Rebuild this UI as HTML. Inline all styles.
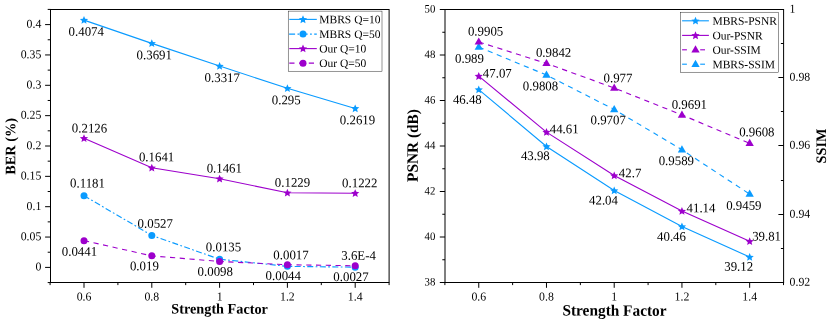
<!DOCTYPE html>
<html><head><meta charset="utf-8"><title>chart</title>
<style>
html,body{margin:0;padding:0;background:#fff;}
svg{display:block;will-change:transform;font-family:"Liberation Serif",serif;fill:#000;}
</style></head><body>
<svg width="830" height="320" viewBox="0 0 830 320">
<rect width="830" height="320" fill="#fff"/>
<rect x="50.5" y="9.5" width="338.60" height="273.0" fill="none" stroke="#000" stroke-width="1"/>
<line x1="45.10" y1="267.40" x2="50.50" y2="267.40" stroke="#000" stroke-width="1"/>
<text transform="translate(41.30,270.63) rotate(0.05) scale(1,1.03)" font-size="11.8" text-anchor="end">0</text>
<line x1="45.10" y1="237.05" x2="50.50" y2="237.05" stroke="#000" stroke-width="1"/>
<text transform="translate(41.30,240.28) rotate(0.05) scale(1,1.03)" font-size="11.8" text-anchor="end">0.05</text>
<line x1="45.10" y1="206.70" x2="50.50" y2="206.70" stroke="#000" stroke-width="1"/>
<text transform="translate(41.30,209.93) rotate(0.05) scale(1,1.03)" font-size="11.8" text-anchor="end">0.1</text>
<line x1="45.10" y1="176.35" x2="50.50" y2="176.35" stroke="#000" stroke-width="1"/>
<text transform="translate(41.30,179.58) rotate(0.05) scale(1,1.03)" font-size="11.8" text-anchor="end">0.15</text>
<line x1="45.10" y1="146.00" x2="50.50" y2="146.00" stroke="#000" stroke-width="1"/>
<text transform="translate(41.30,149.23) rotate(0.05) scale(1,1.03)" font-size="11.8" text-anchor="end">0.2</text>
<line x1="45.10" y1="115.65" x2="50.50" y2="115.65" stroke="#000" stroke-width="1"/>
<text transform="translate(41.30,118.88) rotate(0.05) scale(1,1.03)" font-size="11.8" text-anchor="end">0.25</text>
<line x1="45.10" y1="85.30" x2="50.50" y2="85.30" stroke="#000" stroke-width="1"/>
<text transform="translate(41.30,88.53) rotate(0.05) scale(1,1.03)" font-size="11.8" text-anchor="end">0.3</text>
<line x1="45.10" y1="54.95" x2="50.50" y2="54.95" stroke="#000" stroke-width="1"/>
<text transform="translate(41.30,58.18) rotate(0.05) scale(1,1.03)" font-size="11.8" text-anchor="end">0.35</text>
<line x1="45.10" y1="24.60" x2="50.50" y2="24.60" stroke="#000" stroke-width="1"/>
<text transform="translate(41.30,27.83) rotate(0.05) scale(1,1.03)" font-size="11.8" text-anchor="end">0.4</text>
<line x1="47.70" y1="282.57" x2="50.50" y2="282.57" stroke="#000" stroke-width="1"/>
<line x1="47.70" y1="252.22" x2="50.50" y2="252.22" stroke="#000" stroke-width="1"/>
<line x1="47.70" y1="221.87" x2="50.50" y2="221.87" stroke="#000" stroke-width="1"/>
<line x1="47.70" y1="191.52" x2="50.50" y2="191.52" stroke="#000" stroke-width="1"/>
<line x1="47.70" y1="161.17" x2="50.50" y2="161.17" stroke="#000" stroke-width="1"/>
<line x1="47.70" y1="130.82" x2="50.50" y2="130.82" stroke="#000" stroke-width="1"/>
<line x1="47.70" y1="100.47" x2="50.50" y2="100.47" stroke="#000" stroke-width="1"/>
<line x1="47.70" y1="70.12" x2="50.50" y2="70.12" stroke="#000" stroke-width="1"/>
<line x1="47.70" y1="39.77" x2="50.50" y2="39.77" stroke="#000" stroke-width="1"/>
<line x1="47.70" y1="9.42" x2="50.50" y2="9.42" stroke="#000" stroke-width="1"/>
<line x1="84.00" y1="282.50" x2="84.00" y2="287.80" stroke="#000" stroke-width="1"/>
<text transform="translate(84.00,300.58) rotate(0.05) scale(1,1.03)" font-size="11.8" text-anchor="middle">0.6</text>
<line x1="151.80" y1="282.50" x2="151.80" y2="287.80" stroke="#000" stroke-width="1"/>
<text transform="translate(151.80,300.58) rotate(0.05) scale(1,1.03)" font-size="11.8" text-anchor="middle">0.8</text>
<line x1="219.60" y1="282.50" x2="219.60" y2="287.80" stroke="#000" stroke-width="1"/>
<text transform="translate(219.60,300.58) rotate(0.05) scale(1,1.03)" font-size="11.8" text-anchor="middle">1</text>
<line x1="287.40" y1="282.50" x2="287.40" y2="287.80" stroke="#000" stroke-width="1"/>
<text transform="translate(287.40,300.58) rotate(0.05) scale(1,1.03)" font-size="11.8" text-anchor="middle">1.2</text>
<line x1="355.20" y1="282.50" x2="355.20" y2="287.80" stroke="#000" stroke-width="1"/>
<text transform="translate(355.20,300.58) rotate(0.05) scale(1,1.03)" font-size="11.8" text-anchor="middle">1.4</text>
<line x1="50.10" y1="282.50" x2="50.10" y2="285.10" stroke="#000" stroke-width="1"/>
<line x1="117.90" y1="282.50" x2="117.90" y2="285.10" stroke="#000" stroke-width="1"/>
<line x1="185.70" y1="282.50" x2="185.70" y2="285.10" stroke="#000" stroke-width="1"/>
<line x1="253.50" y1="282.50" x2="253.50" y2="285.10" stroke="#000" stroke-width="1"/>
<line x1="321.30" y1="282.50" x2="321.30" y2="285.10" stroke="#000" stroke-width="1"/>
<line x1="389.10" y1="282.50" x2="389.10" y2="285.10" stroke="#000" stroke-width="1"/>
<text transform="translate(219.60,313.61) rotate(0.05) scale(1,1.02)" font-size="14.25" text-anchor="middle" font-weight="bold">Strength Factor</text>
<text transform="translate(15.31,146.40) rotate(-89.95) scale(1,1.02)" font-size="14.25" text-anchor="middle" font-weight="bold">BER (%)</text>
<polyline points="84.00,20.11 151.80,43.36 219.60,66.06 287.40,88.33 355.20,108.43" fill="none" stroke="#0a9bff" stroke-width="1.12"/>
<polyline points="84.00,195.71 151.80,235.41 219.60,259.21 287.40,266.37 355.20,267.18" fill="none" stroke="#0a9bff" stroke-width="1.12" stroke-dasharray="6 2.4 1.75 2.4"/>
<polyline points="84.00,138.35 151.80,167.79 219.60,178.72 287.40,192.80 355.20,193.22" fill="none" stroke="#9d00cc" stroke-width="1.12"/>
<polyline points="84.00,240.63 151.80,255.87 219.60,261.45 287.40,264.73 355.20,265.76" fill="none" stroke="#9d00cc" stroke-width="1.12" stroke-dasharray="5.2 4.55"/>
<polygon points="84.00,16.07 85.18,18.75 88.09,19.04 85.90,20.98 86.53,23.84 84.00,22.37 81.47,23.84 82.10,20.98 79.91,19.04 82.82,18.75" fill="#0a9bff"/>
<polygon points="151.80,39.31 152.98,42.00 155.89,42.29 153.70,44.23 154.33,47.09 151.80,45.61 149.27,47.09 149.90,44.23 147.71,42.29 150.62,42.00" fill="#0a9bff"/>
<polygon points="219.60,62.02 220.78,64.70 223.69,64.99 221.50,66.93 222.13,69.79 219.60,68.32 217.07,69.79 217.70,66.93 215.51,64.99 218.42,64.70" fill="#0a9bff"/>
<polygon points="287.40,84.29 288.58,86.97 291.49,87.26 289.30,89.21 289.93,92.07 287.40,90.59 284.87,92.07 285.50,89.21 283.31,87.26 286.22,86.97" fill="#0a9bff"/>
<polygon points="355.20,104.38 356.38,107.07 359.29,107.36 357.10,109.30 357.73,112.16 355.20,110.68 352.67,112.16 353.30,109.30 351.11,107.36 354.02,107.07" fill="#0a9bff"/>
<circle cx="84.00" cy="195.71" r="3.5" fill="#0a9bff"/>
<circle cx="151.80" cy="235.41" r="3.5" fill="#0a9bff"/>
<circle cx="219.60" cy="259.21" r="3.5" fill="#0a9bff"/>
<circle cx="287.40" cy="266.37" r="3.5" fill="#0a9bff"/>
<circle cx="355.20" cy="267.18" r="3.5" fill="#0a9bff"/>
<polygon points="84.00,134.31 85.18,136.99 88.09,137.28 85.90,139.23 86.53,142.09 84.00,140.61 81.47,142.09 82.10,139.23 79.91,137.28 82.82,136.99" fill="#9d00cc"/>
<polygon points="151.80,163.75 152.98,166.43 155.89,166.72 153.70,168.67 154.33,171.53 151.80,170.05 149.27,171.53 149.90,168.67 147.71,166.72 150.62,166.43" fill="#9d00cc"/>
<polygon points="219.60,174.68 220.78,177.36 223.69,177.65 221.50,179.59 222.13,182.45 219.60,180.98 217.07,182.45 217.70,179.59 215.51,177.65 218.42,177.36" fill="#9d00cc"/>
<polygon points="287.40,188.76 288.58,191.44 291.49,191.73 289.30,193.68 289.93,196.54 287.40,195.06 284.87,196.54 285.50,193.68 283.31,191.73 286.22,191.44" fill="#9d00cc"/>
<polygon points="355.20,189.18 356.38,191.86 359.29,192.15 357.10,194.10 357.73,196.96 355.20,195.48 352.67,196.96 353.30,194.10 351.11,192.15 354.02,191.86" fill="#9d00cc"/>
<circle cx="84.00" cy="240.63" r="3.5" fill="#9d00cc"/>
<circle cx="151.80" cy="255.87" r="3.5" fill="#9d00cc"/>
<circle cx="219.60" cy="261.45" r="3.5" fill="#9d00cc"/>
<circle cx="287.40" cy="264.73" r="3.5" fill="#9d00cc"/>
<circle cx="355.20" cy="265.76" r="3.5" fill="#9d00cc"/>
<text transform="translate(86.25,35.69) rotate(0.05) scale(1,1.02)" font-size="12.85" text-anchor="middle">0.4074</text>
<text transform="translate(154.25,59.19) rotate(0.05) scale(1,1.02)" font-size="12.85" text-anchor="middle">0.3691</text>
<text transform="translate(222.25,81.89) rotate(0.05) scale(1,1.02)" font-size="12.85" text-anchor="middle">0.3317</text>
<text transform="translate(286.25,104.19) rotate(0.05) scale(1,1.02)" font-size="12.85" text-anchor="middle">0.295</text>
<text transform="translate(357.50,124.19) rotate(0.05) scale(1,1.02)" font-size="12.85" text-anchor="middle">0.2619</text>
<text transform="translate(89.50,132.39) rotate(0.05) scale(1,1.02)" font-size="12.85" text-anchor="middle">0.2126</text>
<text transform="translate(156.60,161.29) rotate(0.05) scale(1,1.02)" font-size="12.85" text-anchor="middle">0.1641</text>
<text transform="translate(224.30,172.59) rotate(0.05) scale(1,1.02)" font-size="12.85" text-anchor="middle">0.1461</text>
<text transform="translate(292.50,186.69) rotate(0.05) scale(1,1.02)" font-size="12.85" text-anchor="middle">0.1229</text>
<text transform="translate(359.75,187.19) rotate(0.05) scale(1,1.02)" font-size="12.85" text-anchor="middle">0.1222</text>
<text transform="translate(87.50,187.39) rotate(0.05) scale(1,1.02)" font-size="12.85" text-anchor="middle">0.1181</text>
<text transform="translate(155.25,227.69) rotate(0.05) scale(1,1.02)" font-size="12.85" text-anchor="middle">0.0527</text>
<text transform="translate(223.50,251.29) rotate(0.05) scale(1,1.02)" font-size="12.85" text-anchor="middle">0.0135</text>
<text transform="translate(291.00,259.19) rotate(0.05) scale(1,1.02)" font-size="12.85" text-anchor="middle">0.0017</text>
<text transform="translate(358.60,259.79) rotate(0.05) scale(1,1.02)" font-size="12.85" text-anchor="middle">3.6E-4</text>
<text transform="translate(79.40,255.69) rotate(0.05) scale(1,1.02)" font-size="12.85" text-anchor="middle">0.0441</text>
<text transform="translate(144.40,270.19) rotate(0.05) scale(1,1.02)" font-size="12.85" text-anchor="middle">0.019</text>
<text transform="translate(215.25,275.69) rotate(0.05) scale(1,1.02)" font-size="12.85" text-anchor="middle">0.0098</text>
<text transform="translate(283.25,279.89) rotate(0.05) scale(1,1.02)" font-size="12.85" text-anchor="middle">0.0044</text>
<text transform="translate(351.00,280.99) rotate(0.05) scale(1,1.02)" font-size="12.85" text-anchor="middle">0.0027</text>
<rect x="288.2" y="11.1" width="93.8" height="60.1" fill="#fff" stroke="#000" stroke-width="0.42"/>
<polyline points="289.30,19.40 316.80,19.40" fill="none" stroke="#0a9bff" stroke-width="1.12"/>
<polygon points="303.00,15.36 304.18,18.04 307.09,18.33 304.90,20.28 305.53,23.14 303.00,21.66 300.47,23.14 301.10,20.28 298.91,18.33 301.82,18.04" fill="#0a9bff"/>
<polyline points="289.10,34.10 316.80,34.10" fill="none" stroke="#0a9bff" stroke-width="1.12" stroke-dasharray="6 2.4 1.75 2.4"/>
<circle cx="303.00" cy="34.10" r="3.5" fill="#0a9bff"/>
<polyline points="289.30,48.60 316.80,48.60" fill="none" stroke="#9d00cc" stroke-width="1.12"/>
<polygon points="303.00,44.56 304.18,47.24 307.09,47.53 304.90,49.48 305.53,52.34 303.00,50.86 300.47,52.34 301.10,49.48 298.91,47.53 301.82,47.24" fill="#9d00cc"/>
<polyline points="289.30,63.15 316.80,63.15" fill="none" stroke="#9d00cc" stroke-width="1.12" stroke-dasharray="5.2 4.55"/>
<circle cx="303.00" cy="63.15" r="3.5" fill="#9d00cc"/>
<text transform="translate(319.30,23.27) rotate(0.05) scale(1,1.0)" font-size="11.5" text-anchor="start">MBRS Q=10</text>
<text transform="translate(319.30,37.97) rotate(0.05) scale(1,1.0)" font-size="11.5" text-anchor="start">MBRS Q=50</text>
<text transform="translate(319.30,52.47) rotate(0.05) scale(1,1.0)" font-size="11.5" text-anchor="start">Our Q=10</text>
<text transform="translate(319.30,67.02) rotate(0.05) scale(1,1.0)" font-size="11.5" text-anchor="start">Our Q=50</text>
<rect x="445.0" y="9.5" width="338.60" height="273.0" fill="none" stroke="#000" stroke-width="1"/>
<line x1="439.80" y1="282.50" x2="445.00" y2="282.50" stroke="#000" stroke-width="1"/>
<text transform="translate(435.30,285.50) rotate(0.05) scale(1,1.06)" font-size="10.8" text-anchor="end">38</text>
<line x1="439.80" y1="237.00" x2="445.00" y2="237.00" stroke="#000" stroke-width="1"/>
<text transform="translate(435.30,240.00) rotate(0.05) scale(1,1.06)" font-size="10.8" text-anchor="end">40</text>
<line x1="439.80" y1="191.50" x2="445.00" y2="191.50" stroke="#000" stroke-width="1"/>
<text transform="translate(435.30,194.50) rotate(0.05) scale(1,1.06)" font-size="10.8" text-anchor="end">42</text>
<line x1="439.80" y1="146.00" x2="445.00" y2="146.00" stroke="#000" stroke-width="1"/>
<text transform="translate(435.30,149.00) rotate(0.05) scale(1,1.06)" font-size="10.8" text-anchor="end">44</text>
<line x1="439.80" y1="100.50" x2="445.00" y2="100.50" stroke="#000" stroke-width="1"/>
<text transform="translate(435.30,103.50) rotate(0.05) scale(1,1.06)" font-size="10.8" text-anchor="end">46</text>
<line x1="439.80" y1="55.00" x2="445.00" y2="55.00" stroke="#000" stroke-width="1"/>
<text transform="translate(435.30,58.00) rotate(0.05) scale(1,1.06)" font-size="10.8" text-anchor="end">48</text>
<line x1="439.80" y1="9.50" x2="445.00" y2="9.50" stroke="#000" stroke-width="1"/>
<text transform="translate(435.30,12.50) rotate(0.05) scale(1,1.06)" font-size="10.8" text-anchor="end">50</text>
<line x1="442.30" y1="259.75" x2="445.00" y2="259.75" stroke="#000" stroke-width="1"/>
<line x1="442.30" y1="214.25" x2="445.00" y2="214.25" stroke="#000" stroke-width="1"/>
<line x1="442.30" y1="168.75" x2="445.00" y2="168.75" stroke="#000" stroke-width="1"/>
<line x1="442.30" y1="123.25" x2="445.00" y2="123.25" stroke="#000" stroke-width="1"/>
<line x1="442.30" y1="77.75" x2="445.00" y2="77.75" stroke="#000" stroke-width="1"/>
<line x1="442.30" y1="32.25" x2="445.00" y2="32.25" stroke="#000" stroke-width="1"/>
<line x1="778.40" y1="282.50" x2="783.60" y2="282.50" stroke="#000" stroke-width="1"/>
<text transform="translate(789.60,285.68) rotate(0.05) scale(1,1.03)" font-size="11.8" text-anchor="start">0.92</text>
<line x1="778.40" y1="214.50" x2="783.60" y2="214.50" stroke="#000" stroke-width="1"/>
<text transform="translate(789.60,217.68) rotate(0.05) scale(1,1.03)" font-size="11.8" text-anchor="start">0.94</text>
<line x1="778.40" y1="145.50" x2="783.60" y2="145.50" stroke="#000" stroke-width="1"/>
<text transform="translate(789.60,148.68) rotate(0.05) scale(1,1.03)" font-size="11.8" text-anchor="start">0.96</text>
<line x1="778.40" y1="77.50" x2="783.60" y2="77.50" stroke="#000" stroke-width="1"/>
<text transform="translate(789.60,80.68) rotate(0.05) scale(1,1.03)" font-size="11.8" text-anchor="start">0.98</text>
<line x1="778.40" y1="9.50" x2="783.60" y2="9.50" stroke="#000" stroke-width="1"/>
<text transform="translate(789.60,12.68) rotate(0.05) scale(1,1.03)" font-size="11.8" text-anchor="start">1</text>
<line x1="780.90" y1="248.50" x2="783.60" y2="248.50" stroke="#000" stroke-width="1"/>
<line x1="780.90" y1="180.50" x2="783.60" y2="180.50" stroke="#000" stroke-width="1"/>
<line x1="780.90" y1="111.50" x2="783.60" y2="111.50" stroke="#000" stroke-width="1"/>
<line x1="780.90" y1="43.50" x2="783.60" y2="43.50" stroke="#000" stroke-width="1"/>
<line x1="478.75" y1="282.50" x2="478.75" y2="287.80" stroke="#000" stroke-width="1"/>
<text transform="translate(478.75,300.58) rotate(0.05) scale(1,1.03)" font-size="11.8" text-anchor="middle">0.6</text>
<line x1="546.48" y1="282.50" x2="546.48" y2="287.80" stroke="#000" stroke-width="1"/>
<text transform="translate(546.48,300.58) rotate(0.05) scale(1,1.03)" font-size="11.8" text-anchor="middle">0.8</text>
<line x1="614.21" y1="282.50" x2="614.21" y2="287.80" stroke="#000" stroke-width="1"/>
<text transform="translate(614.21,300.58) rotate(0.05) scale(1,1.03)" font-size="11.8" text-anchor="middle">1</text>
<line x1="681.94" y1="282.50" x2="681.94" y2="287.80" stroke="#000" stroke-width="1"/>
<text transform="translate(681.94,300.58) rotate(0.05) scale(1,1.03)" font-size="11.8" text-anchor="middle">1.2</text>
<line x1="749.67" y1="282.50" x2="749.67" y2="287.80" stroke="#000" stroke-width="1"/>
<text transform="translate(749.67,300.58) rotate(0.05) scale(1,1.03)" font-size="11.8" text-anchor="middle">1.4</text>
<line x1="444.88" y1="282.50" x2="444.88" y2="285.10" stroke="#000" stroke-width="1"/>
<line x1="512.62" y1="282.50" x2="512.62" y2="285.10" stroke="#000" stroke-width="1"/>
<line x1="580.35" y1="282.50" x2="580.35" y2="285.10" stroke="#000" stroke-width="1"/>
<line x1="648.08" y1="282.50" x2="648.08" y2="285.10" stroke="#000" stroke-width="1"/>
<line x1="715.81" y1="282.50" x2="715.81" y2="285.10" stroke="#000" stroke-width="1"/>
<line x1="783.53" y1="282.50" x2="783.53" y2="285.10" stroke="#000" stroke-width="1"/>
<text transform="translate(614.50,315.63) rotate(0.05) scale(1,1.03)" font-size="15.35" text-anchor="middle" font-weight="bold">Strength Factor</text>
<text transform="translate(417.88,145.50) rotate(-89.95) scale(1,1.03)" font-size="15.35" text-anchor="middle" font-weight="bold">PSNR (dB)</text>
<text transform="translate(825.96,146.00) rotate(-89.95) scale(1,1.02)" font-size="14.25" text-anchor="middle" font-weight="bold">SSIM</text>
<polyline points="478.75,89.58 546.48,146.46 614.21,190.59 681.94,226.53 749.67,257.02" fill="none" stroke="#0a9bff" stroke-width="1.12"/>
<polyline points="478.75,76.16 546.48,132.12 614.21,175.57 681.94,211.06 749.67,241.32" fill="none" stroke="#9d00cc" stroke-width="1.12"/>
<polyline points="478.75,47.04 546.48,75.02 614.21,109.49 681.94,149.75 749.67,194.12" fill="none" stroke="#0a9bff" stroke-width="1.12" stroke-dasharray="5.2 4.55"/>
<polyline points="478.75,41.92 546.48,63.42 614.21,87.99 681.94,114.95 749.67,143.27" fill="none" stroke="#9d00cc" stroke-width="1.12" stroke-dasharray="5.2 4.55"/>
<polygon points="478.75,85.54 479.93,88.22 482.84,88.51 480.65,90.46 481.28,93.32 478.75,91.84 476.22,93.32 476.85,90.46 474.66,88.51 477.57,88.22" fill="#0a9bff"/>
<polygon points="546.48,142.41 547.66,145.09 550.57,145.38 548.38,147.33 549.01,150.19 546.48,148.71 543.95,150.19 544.58,147.33 542.39,145.38 545.30,145.09" fill="#0a9bff"/>
<polygon points="614.21,186.55 615.39,189.23 618.30,189.52 616.11,191.47 616.74,194.33 614.21,192.85 611.68,194.33 612.31,191.47 610.12,189.52 613.03,189.23" fill="#0a9bff"/>
<polygon points="681.94,222.49 683.12,225.17 686.03,225.46 683.84,227.41 684.47,230.27 681.94,228.79 679.41,230.27 680.04,227.41 677.85,225.46 680.76,225.17" fill="#0a9bff"/>
<polygon points="749.67,252.98 750.85,255.66 753.76,255.95 751.57,257.90 752.20,260.76 749.67,259.28 747.14,260.76 747.77,257.90 745.58,255.95 748.49,255.66" fill="#0a9bff"/>
<polygon points="478.75,72.12 479.93,74.80 482.84,75.09 480.65,77.03 481.28,79.89 478.75,78.42 476.22,79.89 476.85,77.03 474.66,75.09 477.57,74.80" fill="#9d00cc"/>
<polygon points="546.48,128.08 547.66,130.76 550.57,131.05 548.38,133.00 549.01,135.86 546.48,134.38 543.95,135.86 544.58,133.00 542.39,131.05 545.30,130.76" fill="#9d00cc"/>
<polygon points="614.21,171.53 615.39,174.21 618.30,174.50 616.11,176.45 616.74,179.31 614.21,177.83 611.68,179.31 612.31,176.45 610.12,174.50 613.03,174.21" fill="#9d00cc"/>
<polygon points="681.94,207.02 683.12,209.70 686.03,209.99 683.84,211.94 684.47,214.80 681.94,213.32 679.41,214.80 680.04,211.94 677.85,209.99 680.76,209.70" fill="#9d00cc"/>
<polygon points="749.67,237.28 750.85,239.96 753.76,240.25 751.57,242.20 752.20,245.06 749.67,243.58 747.14,245.06 747.77,242.20 745.58,240.25 748.49,239.96" fill="#9d00cc"/>
<polygon points="478.75,42.54 474.60,49.74 482.90,49.74" fill="#0a9bff"/>
<polygon points="546.48,70.52 542.33,77.72 550.63,77.72" fill="#0a9bff"/>
<polygon points="614.21,104.99 610.06,112.19 618.36,112.19" fill="#0a9bff"/>
<polygon points="681.94,145.25 677.79,152.45 686.09,152.45" fill="#0a9bff"/>
<polygon points="749.67,189.62 745.52,196.82 753.82,196.82" fill="#0a9bff"/>
<polygon points="478.75,37.42 474.60,44.62 482.90,44.62" fill="#9d00cc"/>
<polygon points="546.48,58.92 542.33,66.12 550.63,66.12" fill="#9d00cc"/>
<polygon points="614.21,83.49 610.06,90.69 618.36,90.69" fill="#9d00cc"/>
<polygon points="681.94,110.45 677.79,117.65 686.09,117.65" fill="#9d00cc"/>
<polygon points="749.67,138.77 745.52,145.97 753.82,145.97" fill="#9d00cc"/>
<text transform="translate(485.60,35.59) rotate(0.05) scale(1,1.02)" font-size="12.85" text-anchor="middle">0.9905</text>
<text transform="translate(553.60,56.79) rotate(0.05) scale(1,1.02)" font-size="12.85" text-anchor="middle">0.9842</text>
<text transform="translate(618.00,82.29) rotate(0.05) scale(1,1.02)" font-size="12.85" text-anchor="middle">0.977</text>
<text transform="translate(689.35,108.79) rotate(0.05) scale(1,1.02)" font-size="12.85" text-anchor="middle">0.9691</text>
<text transform="translate(756.85,136.29) rotate(0.05) scale(1,1.02)" font-size="12.85" text-anchor="middle">0.9608</text>
<text transform="translate(469.50,62.79) rotate(0.05) scale(1,1.02)" font-size="12.85" text-anchor="middle">0.989</text>
<text transform="translate(540.50,90.29) rotate(0.05) scale(1,1.02)" font-size="12.85" text-anchor="middle">0.9808</text>
<text transform="translate(608.20,124.29) rotate(0.05) scale(1,1.02)" font-size="12.85" text-anchor="middle">0.9707</text>
<text transform="translate(676.35,165.09) rotate(0.05) scale(1,1.02)" font-size="12.85" text-anchor="middle">0.9589</text>
<text transform="translate(743.85,209.69) rotate(0.05) scale(1,1.02)" font-size="12.85" text-anchor="middle">0.9459</text>
<text transform="translate(497.30,77.49) rotate(0.05) scale(1,1.02)" font-size="12.85" text-anchor="middle">47.07</text>
<text transform="translate(564.20,133.29) rotate(0.05) scale(1,1.02)" font-size="12.85" text-anchor="middle">44.61</text>
<text transform="translate(630.10,177.24) rotate(0.05) scale(1,1.02)" font-size="12.85" text-anchor="middle">42.7</text>
<text transform="translate(701.00,212.29) rotate(0.05) scale(1,1.02)" font-size="12.85" text-anchor="middle">41.14</text>
<text transform="translate(766.60,240.44) rotate(0.05) scale(1,1.02)" font-size="12.85" text-anchor="middle">39.81</text>
<text transform="translate(467.35,103.79) rotate(0.05) scale(1,1.02)" font-size="12.85" text-anchor="middle">46.48</text>
<text transform="translate(535.35,160.09) rotate(0.05) scale(1,1.02)" font-size="12.85" text-anchor="middle">43.98</text>
<text transform="translate(603.50,204.59) rotate(0.05) scale(1,1.02)" font-size="12.85" text-anchor="middle">42.04</text>
<text transform="translate(671.50,240.79) rotate(0.05) scale(1,1.02)" font-size="12.85" text-anchor="middle">40.46</text>
<text transform="translate(738.70,270.79) rotate(0.05) scale(1,1.02)" font-size="12.85" text-anchor="middle">39.12</text>
<rect x="680.5" y="12.2" width="98" height="60" fill="#fff" stroke="#000" stroke-width="0.42"/>
<polyline points="682.10,20.80 708.90,20.80" fill="none" stroke="#0a9bff" stroke-width="1.12"/>
<polygon points="695.50,16.76 696.68,19.44 699.59,19.73 697.40,21.68 698.03,24.54 695.50,23.06 692.97,24.54 693.60,21.68 691.41,19.73 694.32,19.44" fill="#0a9bff"/>
<polyline points="682.10,35.40 708.90,35.40" fill="none" stroke="#9d00cc" stroke-width="1.12"/>
<polygon points="695.50,31.36 696.68,34.04 699.59,34.33 697.40,36.28 698.03,39.14 695.50,37.66 692.97,39.14 693.60,36.28 691.41,34.33 694.32,34.04" fill="#9d00cc"/>
<polyline points="682.10,49.80 686.90,49.80" fill="none" stroke="#9d00cc" stroke-width="1.12"/>
<polyline points="700.20,49.80 705.00,49.80" fill="none" stroke="#9d00cc" stroke-width="1.12"/>
<polygon points="695.50,45.30 691.35,52.50 699.65,52.50" fill="#9d00cc"/>
<polyline points="682.10,64.20 686.90,64.20" fill="none" stroke="#0a9bff" stroke-width="1.12"/>
<polyline points="700.20,64.20 705.00,64.20" fill="none" stroke="#0a9bff" stroke-width="1.12"/>
<polygon points="695.50,59.70 691.35,66.90 699.65,66.90" fill="#0a9bff"/>
<text transform="translate(712.40,24.77) rotate(0.05) scale(1,1.0)" font-size="11.5" text-anchor="start">MBRS-PSNR</text>
<text transform="translate(712.40,39.37) rotate(0.05) scale(1,1.0)" font-size="11.5" text-anchor="start">Our-PSNR</text>
<text transform="translate(712.40,53.77) rotate(0.05) scale(1,1.0)" font-size="11.5" text-anchor="start">Our-SSIM</text>
<text transform="translate(712.40,68.17) rotate(0.05) scale(1,1.0)" font-size="11.5" text-anchor="start">MBRS-SSIM</text>
</svg>
</body></html>
